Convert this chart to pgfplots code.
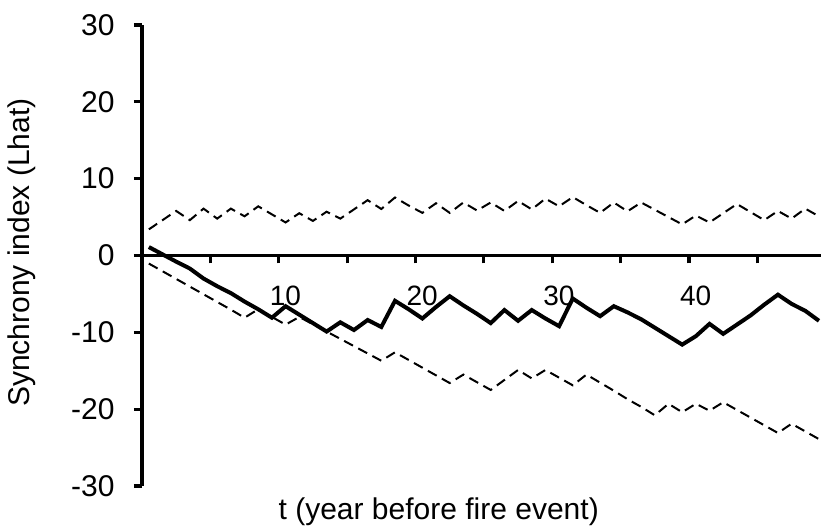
\documentclass[border=0pt]{standalone}
\usepackage{fontspec}
\setmainfont{Liberation Sans}
\usepackage{pgfplots}
\usepackage{pgfplotstable}
\pgfplotsset{compat=1.18}
\pgfplotstableread{
x up mid low
0.5 3.4 1.1 -1.05
1.5 4.6 0.15 -2.05
2.5 5.8 -0.8 -3.05
3.5 4.6 -1.7 -4.05
4.5 6.1 -3.0 -5.05
5.5 4.8 -4.0 -6.05
6.5 6.1 -4.9 -7.05
7.5 5.1 -6.0 -8.1
8.5 6.4 -7.0 -7.0
9.5 5.35 -8.1 -8.0
10.5 4.3 -6.6 -9.0
11.5 5.5 -7.7 -8.0
12.5 4.5 -8.8 -8.95
13.5 5.7 -9.9 -9.9
14.5 4.8 -8.7 -10.85
15.5 6.0 -9.7 -11.8
16.5 7.2 -8.4 -12.75
17.5 6.05 -9.3 -13.7
18.5 7.55 -5.9 -12.6
19.5 6.5 -7.0 -13.6
20.5 5.55 -8.2 -14.6
21.5 6.8 -6.7 -15.6
22.5 5.55 -5.3 -16.6
23.5 6.9 -6.5 -15.5
24.5 5.85 -7.6 -16.5
25.5 6.9 -8.8 -17.5
26.5 5.8 -7.1 -16.2
27.5 7.1 -8.5 -14.9
28.5 6.0 -7.1 -16.0
29.5 7.4 -8.2 -14.9
30.5 6.4 -9.2 -15.9
31.5 7.6 -5.6 -16.9
32.5 6.55 -6.8 -15.5
33.5 5.55 -7.9 -16.55
34.5 6.9 -6.6 -17.6
35.5 5.75 -7.4 -18.7
36.5 6.9 -8.3 -19.7
37.5 5.95 -9.4 -20.8
38.5 5.0 -10.5 -19.3
39.5 4.05 -11.6 -20.4
40.5 5.2 -10.5 -19.3
41.5 4.3 -8.9 -20.2
42.5 5.5 -10.2 -19.1
43.5 6.7 -9.0 -20.1
44.5 5.65 -7.8 -21.1
45.5 4.6 -6.4 -22.1
46.5 5.8 -5.1 -23.1
47.5 4.8 -6.3 -21.9
48.5 6.1 -7.2 -22.9
49.5 5.1 -8.5 -23.9
}\data
\begin{document}
\begin{tikzpicture}
\begin{axis}[
  scale only axis, width=339.5pt, height=230.5pt,
  xmin=0, xmax=49.65, ymin=-30, ymax=30,
  axis lines=middle,
  axis line style={-, line width=1.6pt, black},
  hide obscured x ticks=false, hide obscured y ticks=false,
  tick align=outside,
  major tick length=4pt,
  tick style={line width=1.6pt, black},
  xtick={5,10,...,45},
  xticklabels={,10,,20,,30,,40,},
  ytick={-30,-20,...,30},
  yticklabels={-30,-20,-10,0,10,20,30},
  xticklabel style={font=\fontsize{14}{16}\selectfont, anchor=north, inner sep=0pt, xshift=3.3pt, yshift=-11pt},
  yticklabel style={font=\fontsize{15}{17}\selectfont, anchor=east, inner sep=0pt, xshift=-9.5pt},
  xlabel={t (year before fire event)},
  ylabel={Synchrony index (Lhat)},
  label style={font=\fontsize{15}{18}\selectfont},
  xlabel style={at={(axis description cs:0.437,0)}, anchor=base, inner sep=0pt, yshift=-17pt},
  ylabel style={at={(axis description cs:-0.1767,0.5065)}, rotate=90, anchor=center, inner sep=0pt},
  clip=false,
]
\addplot[black, line width=1pt, dash pattern=on 5pt off 3pt] table[x=x, y=up] {\data};
\addplot[black, line width=1pt, dash pattern=on 5pt off 3pt] table[x=x, y=low] {\data};
\addplot[black, line width=2pt] table[x=x, y=mid] {\data};
\end{axis}
\pgfresetboundingbox
\path[use as bounding box] ([xshift=-71pt,yshift=-20.5pt]current axis.south west) rectangle ([yshift=12.5pt]current axis.north east);
\end{tikzpicture}
\end{document}
